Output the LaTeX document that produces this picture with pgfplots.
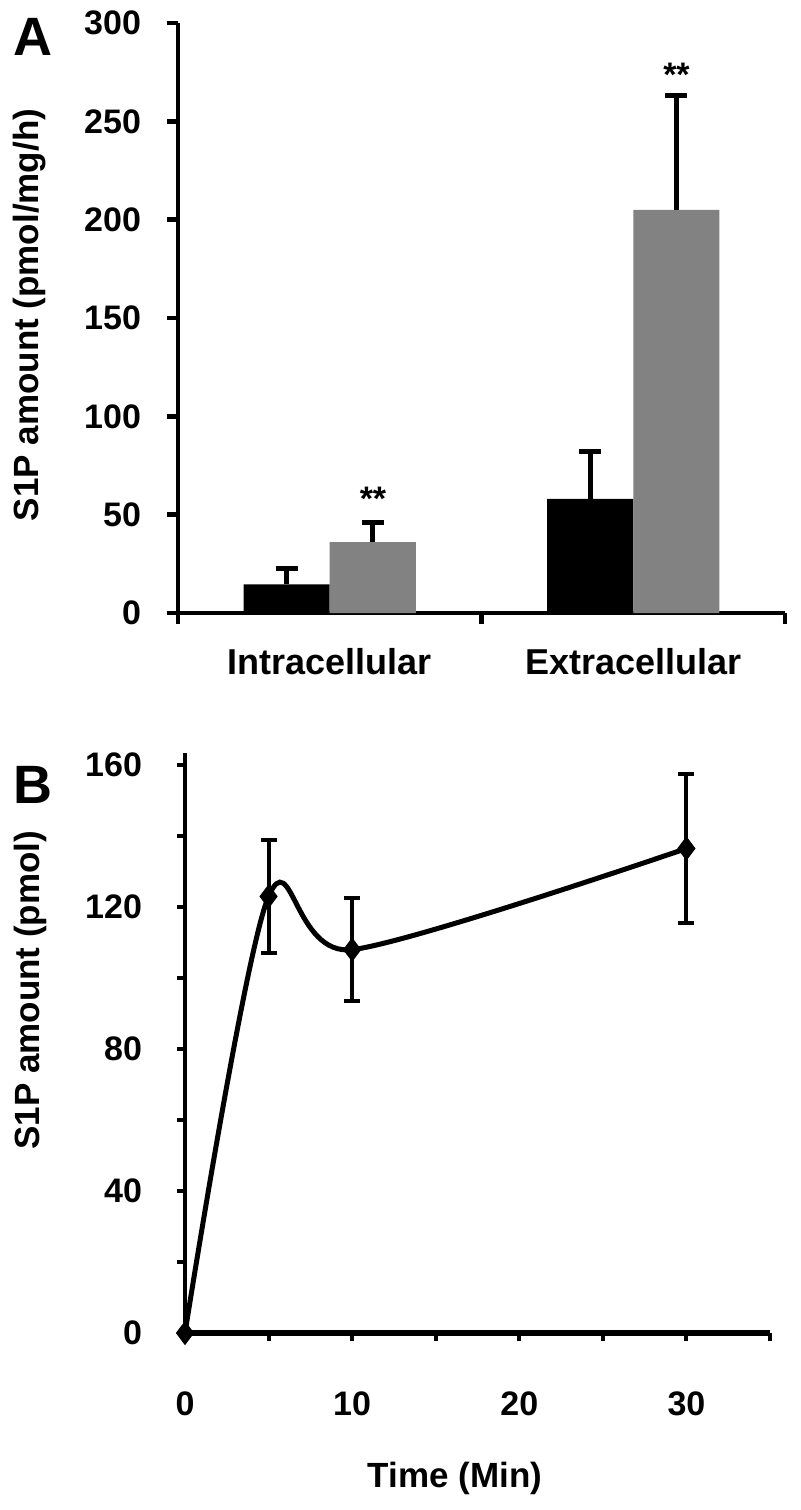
\documentclass[border=0pt]{standalone}
\usepackage{fontspec}
\setmainfont{Liberation Sans}
\usepackage{pgfplots}
\pgfplotsset{compat=1.18}
\newcommand\fs[1]{\fontsize{#1}{#1}\selectfont}
\definecolor{bargray}{RGB}{130,130,130}
\begin{document}
\begin{tikzpicture}
\useasboundingbox (0,0) rectangle (400pt,-755pt);
% Panel labels
\node[font=\bfseries\fs{27}] at (16.5pt,-18.5pt) {A};
\node[font=\bfseries\fs{27}] at (16.5pt,-392.5pt) {B};
% ---------------- Panel A ----------------
\begin{axis}[
  at={(89pt,-306.5pt)}, anchor=south west,
  scale only axis, width=303.5pt, height=295pt,
  xmin=-0.5, xmax=1.5, ymin=0, ymax=300,
  ybar=0pt, bar width=43pt,
  axis x line*=bottom, axis y line*=left,
  axis line style={-, line width=2.4pt},
  tick align=outside, tick style={black, line width=2.4pt},
  major tick length=5.5pt,
  ytick={0,50,...,300},
  xtick={-0.5,0.5,1.5}, xticklabels={},
  extra x ticks={0,1},
  extra x tick labels={Intracellular,Extracellular},
  extra x tick style={major tick length=0pt, tick style={draw=none},
    xticklabel style={yshift=-14pt, font=\bfseries\fs{18}}},
  /pgf/number format/assume math mode=true,
  tick label style={font=\bfseries\fs{17}},
  yticklabel style={xshift=-9.5pt},
  ylabel={S1P amount (pmol/mg/h)},
  every axis y label/.style={at={(axis description cs:-0.244,0.505)}, rotate=90, anchor=center, font=\bfseries\fs{17.5}},
  clip=false,
]
\addplot[fill=black, draw=none,
  error bars/.cd, y dir=plus, y explicit,
  error bar style={line width=2.4pt, black},
  error mark options={line width=2.4pt, mark size=5.5pt, rotate=90}]
  coordinates {(0,14.5) +- (0,8) (1,58) +- (0,24)};
\addplot[fill=bargray, draw=none,
  error bars/.cd, y dir=plus, y explicit,
  error bar style={line width=2.4pt, black},
  error mark options={line width=2.4pt, mark size=5.5pt, rotate=90}]
  coordinates {(0,36) +- (0,10) (1,205) +- (0,58)};
\node[font=\bfseries\fs{17}] at (axis cs:0.1425,58) {**};
\node[font=\bfseries\fs{17}] at (axis cs:1.1425,273.6) {**};
\end{axis}
% ---------------- Panel B ----------------
\begin{axis}[
  at={(92.5pt,-666.5pt)}, anchor=south west,
  scale only axis, width=292.5pt, height=290pt,
  xmin=0, xmax=35, ymin=0, ymax=163.4,
  axis x line*=bottom, axis y line*=left,
  x axis line style={-, line width=3pt},
  y axis line style={-, line width=1.8pt},
  tick align=outside,
  xtick={0,10,20,30}, minor xtick={5,15,25,35},
  ytick={0,40,...,160}, minor ytick={20,60,100,140},
  x tick style={black, line width=2pt},
  y tick style={black, line width=1.8pt},
  minor x tick style={black, line width=2pt},
  minor y tick style={black, line width=1.8pt},
  major tick length=4pt, minor tick length=4pt,
  /pgf/number format/assume math mode=true,
  tick label style={font=\bfseries\fs{17}},
  xticklabel style={yshift=-22pt},
  yticklabel style={xshift=-14pt},
  xlabel={Time (Min)},
  every axis x label/.style={at={(axis description cs:0.4615,-0.25)}, anchor=center, font=\bfseries\fs{17.5}},
  ylabel={S1P amount (pmol)},
  every axis y label/.style={at={(axis description cs:-0.265,0.591)}, rotate=90, anchor=center, font=\bfseries\fs{17.5}},
  clip=false,
]
\addplot[black, line width=2.5pt, smooth, mark=diamond*, mark size=4pt,
  mark options={solid, fill=black},
  error bars/.cd, y dir=both, y explicit,
  error bar style={line width=2pt, black},
  error mark options={line width=2pt, mark size=4pt, rotate=90}]
  coordinates {(0,0) +- (0,0) (5,123) +- (0,16) (10,108) +- (0,14.5) (30,136.5) +- (0,21)};
\end{axis}
\end{tikzpicture}
\end{document}
